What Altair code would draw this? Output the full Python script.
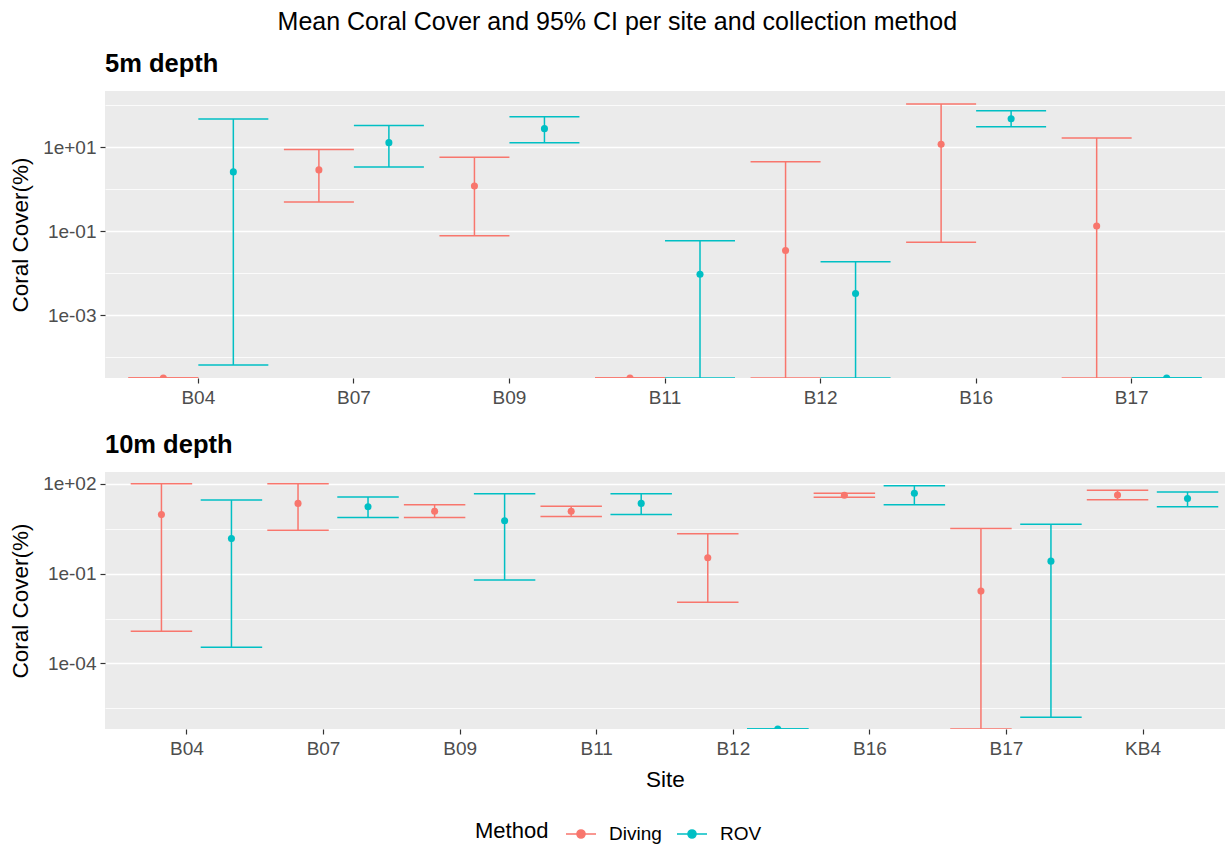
import json
import math
import altair as alt
import pandas as pd

methods = ["Diving", "ROV"]
colors = ["#F8766D", "#00BFC4"]

# ---- 5 m depth ----
sites_5m = ["B04", "B07", "B09", "B11", "B12", "B16", "B17"]
mean_5m_diving = [0, 2.9, 1.2, 0, 0.035, 11.8, 0.134]
lower_5m_diving = [0, 0.50, 0.079, 0, 0, 0.055, 0]
upper_5m_diving = [0, 8.9, 5.8, 0, 4.5, 107, 16.7]
mean_5m_rov = [2.6, 12.9, 27.8, 0.0095, 0.0033, 48, 0]
lower_5m_rov = [6.6e-5, 3.4, 12.9, 0, 0, 31, 0]
upper_5m_rov = [47, 33, 53, 0.060, 0.019, 74, 0]

# ---- 10 m depth ----
sites_10m = ["B04", "B07", "B09", "B11", "B12", "B16", "B17", "KB4"]
mean_10m_diving = [9.3, 22, 12, 12, 0.34, 41, 0.026, 42]
lower_10m_diving = [0.0012, 2.8, 7.4, 8.1, 0.011, 35, 0, 29]
upper_10m_diving = [100, 100, 20, 17.5, 2.15, 48, 3.2, 60]
mean_10m_rov = [1.47, 17, 5.8, 22, 0, 48, 0.26, 32]
lower_10m_rov = [3.5e-4, 7.4, 0.061, 9.3, 0, 20, 1.6e-6, 17]
upper_10m_rov = [28.6, 36, 46, 46, 0, 86, 4.4, 53]

# axis tick values
major_5m = [1e-3, 1e-1, 1e1]
major_5m_labels = ["1e-03", "1e-01", "1e+01"]
minor_5m = [1e-4, 1e-2, 1e0, 1e2]
major_10m = [1e-4, 1e-1, 1e2]
major_10m_labels = ["1e-04", "1e-01", "1e+02"]
minor_10m = [10 ** -5.5, 10 ** -2.5, 10 ** 0.5]

TINY = 1e-12  # zeros are -Inf on a log scale -> clamp to panel edge


def frame(sites, md, ld, ud, mr, lr, ur):
    rows = []
    for i, s in enumerate(sites):
        rows.append(dict(Site=s, Method="Diving", mean=md[i], lo=ld[i], hi=ud[i]))
        rows.append(dict(Site=s, Method="ROV", mean=mr[i], lo=lr[i], hi=ur[i]))
    df = pd.DataFrame(rows)
    for c in ["mean", "lo", "hi"]:
        df[c] = df[c].where(df[c] > 0, TINY)
    return df


def log_domain(df):
    vals = pd.concat([df["mean"], df["lo"], df["hi"]])
    vals = vals[vals > TINY]
    a, b = math.log10(vals.min()), math.log10(vals.max())
    e = (b - a) * 0.05
    return [10 ** (a - e), 10 ** (b + e)]


W = 1120
FONT = "Liberation Sans"
LEGEND_SYMBOL = ("M-1,0L1,0"
                 "M-0.27,0a0.27,0.27 0 1,0 0.54,0a0.27,0.27 0 1,0 -0.54,0"
                 "M-0.15,0a0.15,0.15 0 1,0 0.3,0a0.15,0.15 0 1,0 -0.3,0"
                 "M-0.05,0a0.05,0.05 0 1,0 0.1,0a0.05,0.05 0 1,0 -0.1,0")


def panel(df, sites, majors, labels, minors, title, height, show_xtitle):
    test = "indexof(%s, datum.value) >= 0" % json.dumps(majors)
    label_expr = "indexof(%s, datum.value) >= 0 ? %s[indexof(%s, datum.value)] : ''" % (
        json.dumps(majors), json.dumps(labels), json.dumps(majors))
    yaxis = alt.Axis(
        title="Coral Cover(%)",
        values=sorted(majors + minors),
        labelExpr=label_expr,
        gridWidth={"condition": {"test": test, "value": 1.6}, "value": 0.8},
        tickOpacity={"condition": {"test": test, "value": 1}, "value": 0},
    )
    yscale = alt.Scale(type="log", domain=log_domain(df), clamp=True, nice=False)
    step = W / (len(sites) + 0.2)
    cap = step * 0.45

    base = alt.Chart(df).encode(
        x=alt.X("Site:N", sort=sites,
                scale=alt.Scale(paddingInner=0, paddingOuter=0.1),
                axis=alt.Axis(title="Site" if show_xtitle else None, labelAngle=0,
                              gridWidth=1.6, labelPadding=5)),
        xOffset=alt.XOffset("Method:N", sort=methods,
                            scale=alt.Scale(paddingInner=0, paddingOuter=0.1111)),
        color=alt.Color("Method:N", scale=alt.Scale(domain=methods, range=colors),
                        legend=alt.Legend(
                            title="Method", orient="none", legendX=370, legendY=727,
                            direction="horizontal",
                            titleOrient="left",
                            symbolType=LEGEND_SYMBOL,
                            symbolSize=900, symbolStrokeWidth=1.5,
                            titleFontSize=22, labelFontSize=19, titleFontWeight="normal",
                            titleColor="black", labelColor="black",
                            labelOffset=12, columnPadding=12, titlePadding=16)),
    )
    rules = base.mark_rule(strokeWidth=1.5, clip=True).encode(
        y=alt.Y("lo:Q", scale=yscale, axis=yaxis), y2="hi:Q")
    cap_lo = base.mark_tick(size=cap, thickness=1.5, opacity=1, clip=True).encode(y="lo:Q")
    cap_hi = base.mark_tick(size=cap, thickness=1.5, opacity=1, clip=True).encode(y="hi:Q")
    pts = base.mark_circle(size=50, opacity=1, clip=True).encode(y="mean:Q")
    return alt.layer(rules, cap_lo, cap_hi, pts).properties(
        width=W, height=height,
        title=alt.Title(title, anchor="start", frame="group", fontSize=25.5,
                        fontWeight="bold", color="black", offset=14))


df5 = frame(sites_5m, mean_5m_diving, lower_5m_diving, upper_5m_diving,
            mean_5m_rov, lower_5m_rov, upper_5m_rov)
df10 = frame(sites_10m, mean_10m_diving, lower_10m_diving, upper_10m_diving,
             mean_10m_rov, lower_10m_rov, upper_10m_rov)

top = panel(df5, sites_5m, major_5m, major_5m_labels, minor_5m, "5m depth", 287, False)
bot = panel(df10, sites_10m, major_10m, major_10m_labels, minor_10m, "10m depth", 257, True)

chart = alt.vconcat(top, bot, spacing=25).properties(
    title=alt.Title("Mean Coral Cover and 95% CI per site and collection method",
                    anchor="middle", fontSize=25, fontWeight="normal", color="black",
                    offset=17),
    padding={"left": 9, "top": 9, "right": 0, "bottom": 5},
).configure(font=FONT).configure_view(
    fill="#EBEBEB", stroke=None
).configure_axis(
    domain=False, gridColor="white", tickColor="#333333", tickSize=5, tickWidth=1.2,
    labelColor="#4D4D4D", labelFontSize=19, labelFont=FONT, labelPadding=4,
    titleFont=FONT, titleFontSize=22.5, titleFontWeight="normal", titleColor="black",
    titlePadding=10,
).configure_legend(
    labelFont=FONT, titleFont=FONT,
)

chart.save("out.html", embed_options={"renderer": "svg", "actions": False})
